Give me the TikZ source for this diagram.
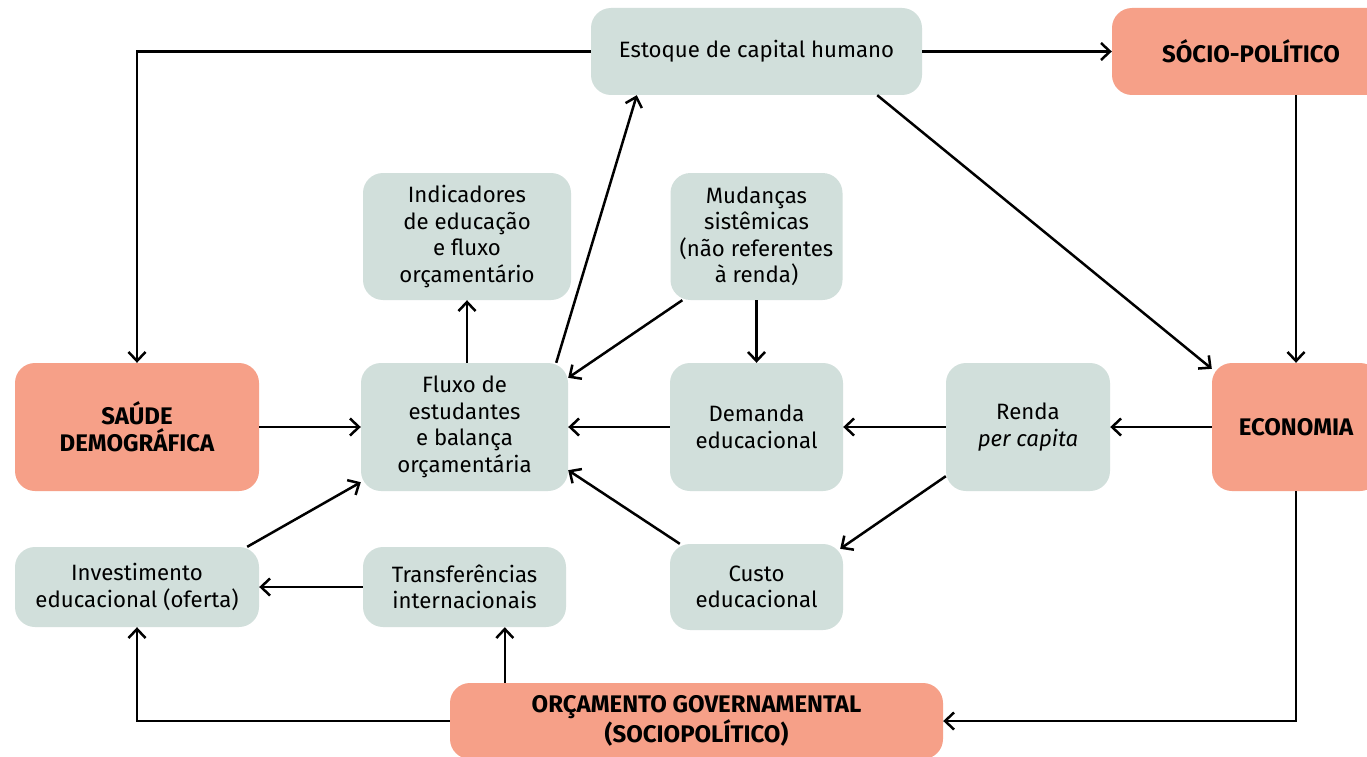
\documentclass[tikz,border=0pt]{standalone}
\usepackage{fontspec}
\setmainfont{Fira Sans}
\usetikzlibrary{arrows.meta}
\definecolor{boxg}{HTML}{D1DFDB}
\definecolor{boxs}{HTML}{F6A088}
\begin{document}
\begin{tikzpicture}[x=1pt,y=-1pt,
  gbox/.style={fill=boxg, rounded corners=20pt, align=center, inner sep=0pt,
    font=\fontsize{22.2}{26.5}\selectfont},
  sbox/.style={fill=boxs, rounded corners=20pt, align=center, inner sep=0pt,
    font=\fontsize{24}{27}\selectfont\bfseries},
  arr/.style={-{Straight Barb[length=9pt,width=17pt]}, line width=2.5pt, black}]
\useasboundingbox (0,0) rectangle (1367,757);
\fill[white] (0,0) rectangle (1367,757);

\node[gbox, minimum width=331pt, minimum height=87pt] (est) at (756.5,51.5) {Estoque de capital humano};
\node[sbox, minimum width=278pt, minimum height=87pt] (soc) at (1251,51.5) {SÓCIO-POLÍTICO};
\node[gbox, minimum width=208pt, minimum height=127pt] (ind) at (467,236.5) {Indicadores\\de educação\\e fluxo\\orçamentário};
\node[gbox, minimum width=172pt, minimum height=127pt] (mud) at (756.5,236.5) {Mudanças\\sistêmicas\\(não referentes\\à renda)};
\node[sbox, minimum width=244pt, minimum height=128pt] (sau) at (137,427) {SAÚDE\\DEMOGRÁFICA};
\node[gbox, minimum width=207pt, minimum height=128pt] (flx) at (464.5,427) {Fluxo de\\estudantes\\e balança\\orçamentária};
\node[gbox, minimum width=173pt, minimum height=128pt] (dem) at (756.5,427) {Demanda\\educacional};
\node[gbox, minimum width=164pt, minimum height=128pt] (ren) at (1028,427) {Renda\\\textit{per capita}};
\node[sbox, minimum width=168pt, minimum height=128pt] (eco) at (1296,427) {ECONOMIA};
\node[gbox, minimum width=244pt, minimum height=80pt] (inv) at (137,587) {Investimento\\educacional (oferta)};
\node[gbox, minimum width=203pt, minimum height=80pt] (tra) at (464.5,587) {Transferências\\internacionais};
\node[gbox, minimum width=173pt, minimum height=86pt] (cus) at (756.5,587) {Custo\\educacional};
\node[sbox, minimum width=493pt, minimum height=76pt] (orc) at (696.5,721) {ORÇAMENTO GOVERNAMENTAL\\(SOCIOPOLÍTICO)};

\draw[arr] (est.west) -| (sau.north);
\draw[arr] (est.east) -- (soc.west);
\draw[arr] (soc.south -| eco.north) -- (eco.north);
\draw[arr] ([xshift=-45pt]est.south east) -- ([yshift=-6pt]eco.north west);
\draw[arr] ([xshift=-12pt]flx.north east) -- ([xshift=46pt]est.south west);
\draw[arr] (flx.north -| ind.south) -- (ind.south);
\draw[arr] ([xshift=12pt]mud.south west) -- ([yshift=-15pt]flx.north east);
\draw[arr] (mud.south) -- (dem.north);
\draw[arr] (dem.west) -- (flx.east);
\draw[arr] (ren.west) -- (dem.east);
\draw[arr] (eco.west) -- (ren.east);
\draw[arr] ([yshift=15pt]ren.south west) -- ([xshift=-3pt,yshift=-5pt]cus.north east);
\draw[arr] ([xshift=10pt]cus.north west) -- ([yshift=21pt]flx.south east);
\draw[arr] (sau.east) -- (flx.west);
\draw[arr] ([xshift=-12pt]inv.north east) -- ([yshift=9pt]flx.south west);
\draw[arr] (tra.west) -- (inv.east);
\draw[arr] (orc.west) -| (inv.south);
\coordinate (o1) at ([xshift=55pt]orc.north west);
\draw[arr] (o1) -- (o1 |- tra.south);
\draw[arr] (eco.south) |- (orc.east);
\end{tikzpicture}
\end{document}
